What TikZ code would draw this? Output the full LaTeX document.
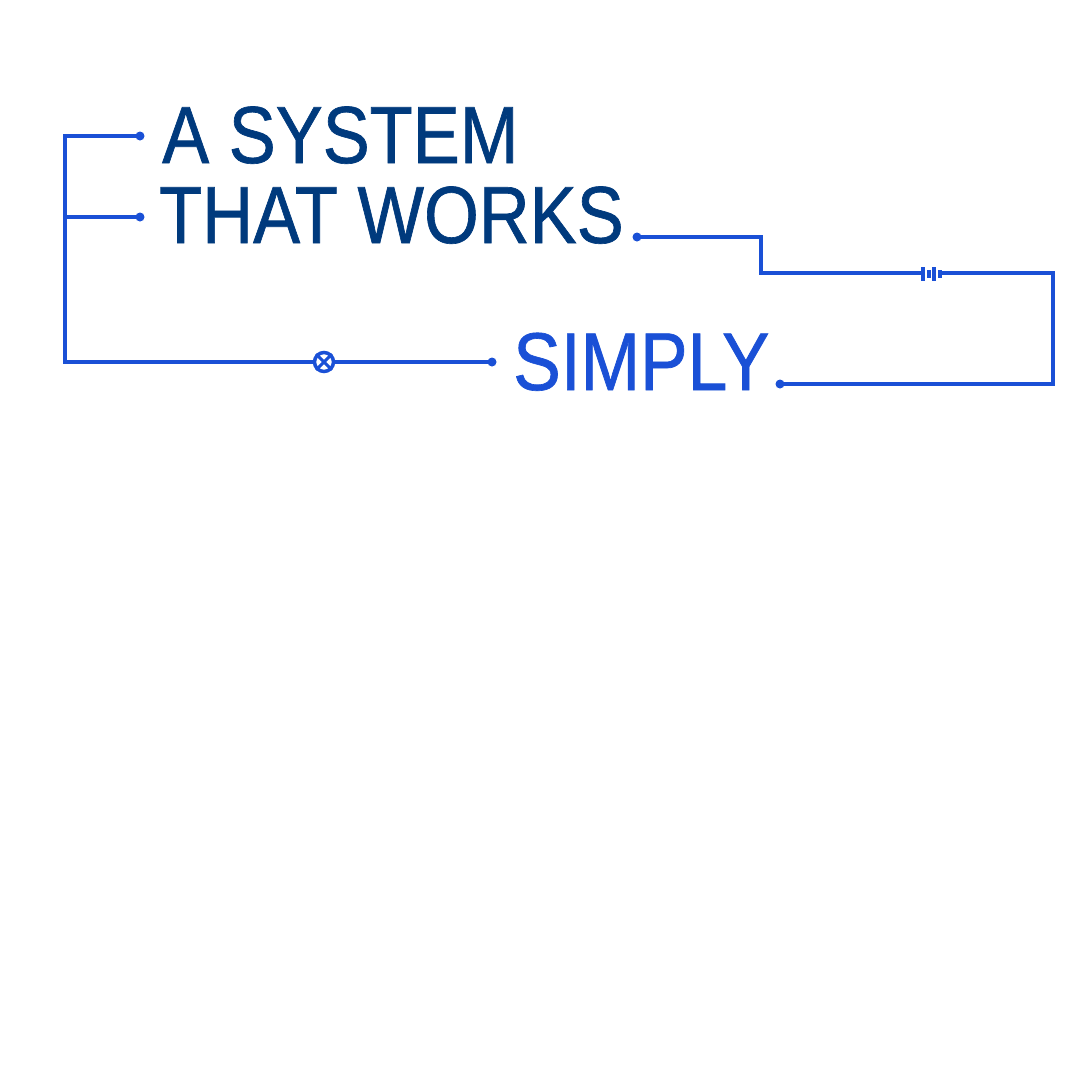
\documentclass[tikz,border=0pt]{standalone}
\usepackage{fontspec}
\newfontfamily\condfont[FakeStretch=0.87,FakeBold=0.8]{Liberation Sans}
\definecolor{navy}{RGB}{0,58,125}
\definecolor{wire}{RGB}{26,80,214}
\begin{document}
\begin{tikzpicture}[x=1pt,y=-1pt,
  wireline/.style={draw=wire,line width=3.2pt},
  dotnode/.style={circle,fill=wire,inner sep=0pt,minimum size=9pt},
  title/.style={anchor=base west,inner sep=0pt,font=\condfont\fontsize{81}{81}\selectfont}]
\useasboundingbox[fill=white] (0,0) rectangle (1080,1080);
% texts
\node[title,text=navy] (t1) at (162,163) {A SYSTEM};
\node[title,text=navy] (t2) at (159,243) {THAT WORKS};
\node[title,text=wire,font=\condfont\fontsize{82}{82}\selectfont] (t3) at (513,390) {SIMPLY};
% dots
\node[dotnode] (d1) at (140,136) {};
\node[dotnode] (d2) at (140,217) {};
\node[dotnode] (d3) at (492,362) {};
\node[dotnode] (d4) at (637,237) {};
\node[dotnode] (d5) at (780,384) {};
% corners
\coordinate (c1) at (65,136);
\coordinate (c2) at (65,217);
\coordinate (c3) at (65,362);
\coordinate (c4) at (761,237);
\coordinate (c5) at (761,273);
\coordinate (c6) at (1053,273);
\coordinate (c7) at (1053,384);
\coordinate (bl) at (921,273);
\coordinate (br) at (942,273);
% lamp
\node[circle,draw=wire,line width=3.5pt,minimum size=19pt,inner sep=0pt] (lamp) at (324,362) {};
% left bracket
\draw[wireline,line join=miter] (d1.center) -- (c1) -- (c3) -- (lamp.west);
\draw[wireline] (c2) -- (d2.center);
\draw[wireline] (lamp.east) -- (d3.center);
\draw[wire,line width=3pt] (lamp.45) -- (lamp.225) (lamp.135) -- (lamp.315);
% right circuit
\draw[wireline,line join=miter] (d4.center) -- (c4) -- (c5) -- (bl);
\draw[wireline,line join=miter] (br) -- (c6) -- (c7) -- (d5.center);
% battery
\fill[wire] (921,267) rectangle (925,281);
\fill[wire] (927,270) rectangle (931,278);
\fill[wire] (932,267) rectangle (936,281);
\fill[wire] (938,270) rectangle (942,278);
\end{tikzpicture}
\end{document}
